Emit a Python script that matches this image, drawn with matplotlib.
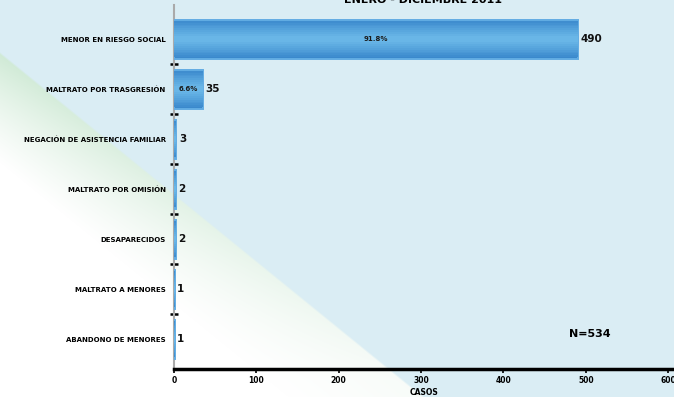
import matplotlib.pyplot as plt
import numpy as np

categorias = [
    "MENOR EN RIESGO SOCIAL",
    "MALTRATO POR TRASGRESIÓN",
    "NEGACIÓN DE ASISTENCIA FAMILIAR",
    "MALTRATO POR OMISIÓN",
    "DESAPARECIDOS",
    "MALTRATO A MENORES",
    "ABANDONO DE MENORES",
]
casos = [490, 35, 3, 2, 2, 1, 1]
porcentajes = ["91.8%", "6.6%", "", "", "", "", ""]
total = 534

W, H = 674, 397
fig = plt.figure(figsize=(W / 100, H / 100), dpi=100)

# fondo: celeste con cuña blanca/verde abajo a la izquierda
bg = fig.add_axes([0, 0, 1, 1])
yy, xx = np.mgrid[0:H, 0:W]
d = (1.23 * (yy - 53) - xx) / np.hypot(1, 1.23)
celeste = np.array([218, 237, 244]) / 255
verde = np.array([208, 234, 214]) / 255
blanco = np.array([1.0, 1.0, 1.0])
s = np.clip(1.15 - yy / 380, 0.15, 1)[..., None]
verde_y = verde * s + blanco * (1 - s)
t = np.clip(d / 85, 0, 1)[..., None]
claro = verde_y * (1 - t) + blanco * t
m = np.clip(d / 2 + 0.5, 0, 1)[..., None]
img = claro * m + celeste * (1 - m)
bg.imshow(img, aspect="auto", extent=[0, W, H, 0])
bg.axis("off")

ax = fig.add_axes([174 / W, 28 / H, 500 / W, 364 / H])
ax.patch.set_alpha(0)
pos = np.arange(len(categorias))

# barras con degradado: capas cada vez mas finas y mas claras
oscuro = np.array([0x3a, 0x88, 0xcc]) / 255
claro_b = np.array([0x6e, 0xbb, 0xea]) / 255
ax.barh(pos, casos, height=0.78, color=oscuro, edgecolor="#62ace3", linewidth=1.4, zorder=3)
capas = 10
for k in range(1, capas):
    f = k / capas
    col = oscuro * (1 - f) + claro_b * f
    ax.barh(pos, casos, height=0.74 * (1 - f) + 0.06, color=col, linewidth=0, zorder=3)

for p, v, pc in zip(pos, casos, porcentajes):
    ax.text(v + 3, p, str(v), va="center", ha="left", fontsize=7.5,
            fontweight="bold", color="#111111", zorder=4)
    if pc:
        ax.text(v / 2, p, pc, va="center", ha="center", fontsize=5,
                fontweight="bold", color="#1a1a1a", zorder=4)

ax.set_xlim(0, 607)
ax.set_ylim(6.6, -0.68)
ax.set_yticks(pos)
ax.set_yticklabels(categorias, fontsize=5, fontweight="bold")
ax.set_yticks(pos[:-1] + 0.5, minor=True)
ax.tick_params(axis="y", which="major", length=0, pad=6)
ax.tick_params(axis="y", which="minor", length=6, width=1.8, direction="inout", color="black")
ax.set_xticks([0, 100, 200, 300, 400, 500, 600])
ax.tick_params(axis="x", labelsize=5.5, length=3, width=1.2, pad=2)
for lb in ax.get_xticklabels():
    lb.set_fontweight("bold")
ax.set_xlabel("CASOS", fontsize=5.5, fontweight="bold", labelpad=2)

ax.spines["top"].set_visible(False)
ax.spines["right"].set_visible(False)
ax.spines["left"].set_color("#aaaaaa")
ax.spines["left"].set_linewidth(1.5)
ax.spines["left"].set_zorder(2)
ax.spines["bottom"].set_color("black")
ax.spines["bottom"].set_linewidth(2.5)

ax.text(505, 5.9, f"N={total}", fontsize=8, fontweight="bold", ha="center", va="center")
fig.text(423 / W, 1.0, "ENERO - DICIEMBRE 2011", fontsize=8, fontweight="bold",
         ha="center", va="center")

fig.savefig("out.png", dpi=100)
